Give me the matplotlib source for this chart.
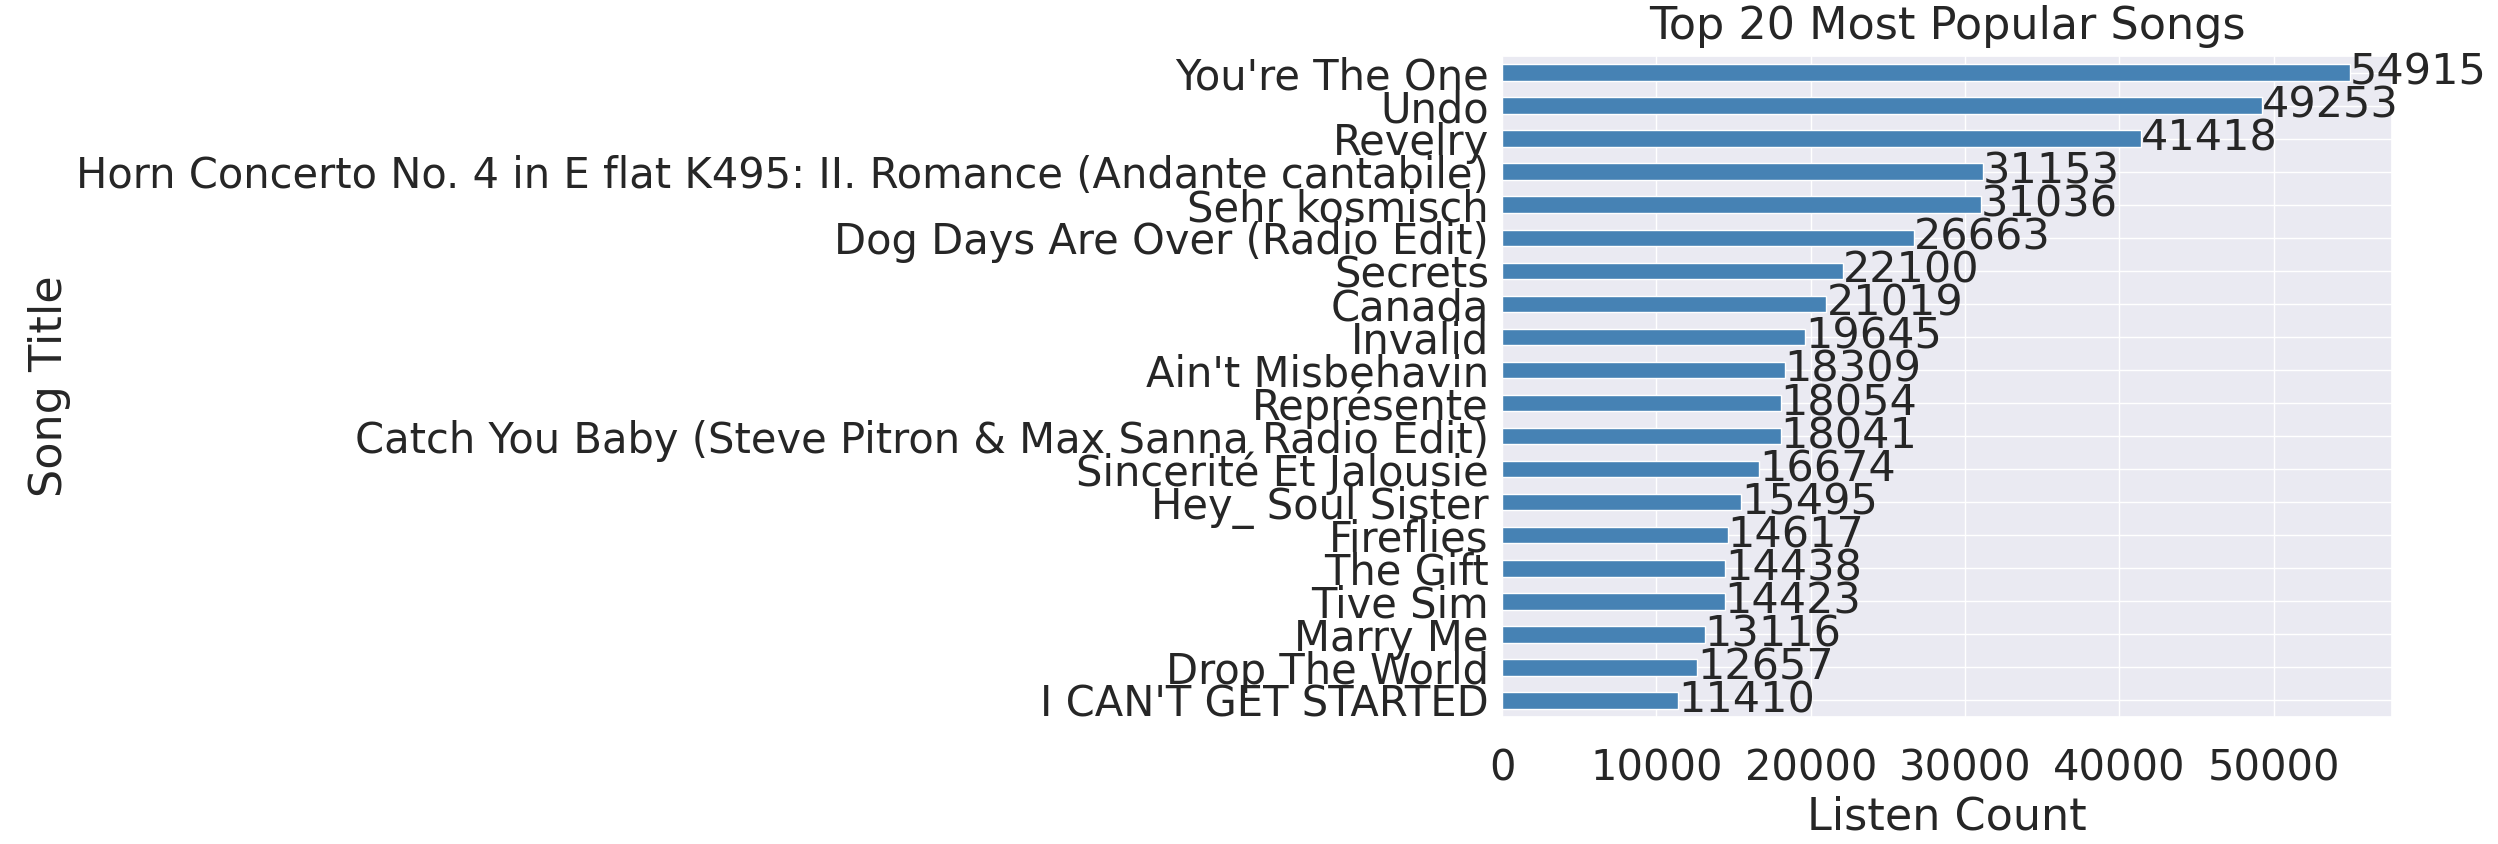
import matplotlib
matplotlib.use("Agg")
import matplotlib.pyplot as plt
import seaborn as sns

songs = [
    "You're The One", "Undo", "Revelry",
    "Horn Concerto No. 4 in E flat K495: II. Romance (Andante cantabile)",
    "Sehr kosmisch", "Dog Days Are Over (Radio Edit)", "Secrets", "Canada",
    "Invalid", "Ain't Misbehavin", "Représente",
    "Catch You Baby (Steve Pitron & Max Sanna Radio Edit)",
    "Sincerité Et Jalousie", "Hey_ Soul Sister", "Fireflies", "The Gift",
    "Tive Sim", "Marry Me", "Drop The World", "I CAN'T GET STARTED",
]
counts = [54915, 49253, 41418, 31153, 31036, 26663, 22100, 21019, 19645,
          18309, 18054, 18041, 16674, 15495, 14617, 14438, 14423, 13116,
          12657, 11410]

sns.set_theme(style="darkgrid", font_scale=2.0)
plt.rcParams["font.family"] = ["DejaVu Sans"]

fig, ax = plt.subplots(figsize=(24.98, 8.44), dpi=100)
fig.subplots_adjust(left=0.6013, right=0.9576, top=0.9336, bottom=0.1505)

# plot smallest first so the most popular song sits on top
ys = list(range(len(songs)))
vals = counts[::-1]
labels = songs[::-1]
ax.barh(ys, vals, height=0.5, color="steelblue")
ax.set_yticks(ys)
ax.set_yticklabels(labels)
for y, v in zip(ys, vals):
    ax.text(v, y, str(v), va="center", ha="left", fontsize=31)

ax.set_xlim(0, max(counts) * 1.05)
ax.set_ylim(-0.5, len(songs) - 0.5)
ax.set_title("Top 20 Most Popular Songs", fontsize=32, pad=12)
ax.set_xlabel("Listen Count", fontsize=32)
ax.set_ylabel("Song Title", fontsize=32)
ax.tick_params(labelsize=30)
ax.tick_params(axis="x", pad=16)

plt.savefig("out.png", dpi=100)
